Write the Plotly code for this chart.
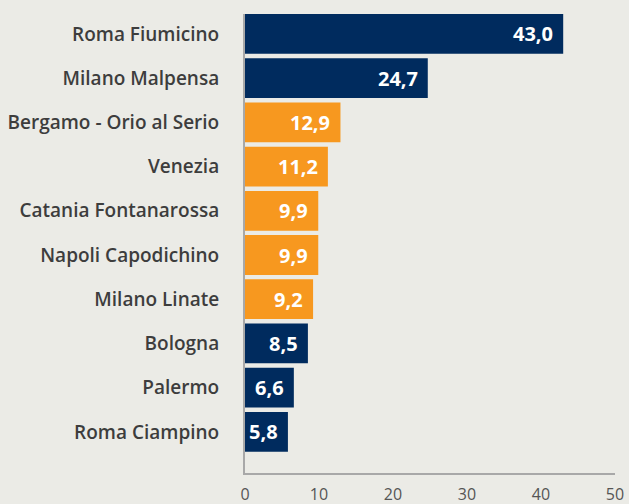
import plotly.graph_objects as go

airports = ['Roma Fiumicino', 'Milano Malpensa', 'Bergamo - Orio al Serio', 'Venezia',
            'Catania Fontanarossa', 'Napoli Capodichino', 'Milano Linate', 'Bologna',
            'Palermo', 'Roma Ciampino']
values = [43.0, 24.7, 12.9, 11.2, 9.9, 9.9, 9.2, 8.5, 6.6, 5.8]
groups = ['blu', 'blu', 'arancio', 'arancio', 'arancio', 'arancio', 'arancio', 'blu', 'blu', 'blu']

NAVY = '#002b5e'
ORANGE = '#f7981f'
BG = '#ebebe6'
colors = [NAVY if g == 'blu' else ORANGE for g in groups]

fig = go.Figure(go.Bar(
    x=values,
    y=airports,
    orientation='h',
    marker=dict(color=colors, line=dict(width=0)),
    width=0.9,
    hoverinfo='skip',
))

# etichette valori dentro le barre, allineate a destra
for a, v in zip(airports, values):
    fig.add_annotation(
        x=v, y=a, text=f'{v:.1f}'.replace('.', ','),
        showarrow=False, xanchor='right', xshift=-8,
        font=dict(family='Open Sans', size=20, color='white', weight='bold'),
    )

fig.update_layout(
    width=629, height=504,
    margin=dict(l=245, r=14, t=14, b=31, autoexpand=False),
    paper_bgcolor=BG, plot_bgcolor=BG,
    showlegend=False,
    xaxis=dict(
        range=[0, 50], tickvals=[0, 10, 20, 30, 40, 50],
        showgrid=False, zeroline=False, automargin=False,
        showline=True, linecolor='#a8a8a8', linewidth=2,
        tickfont=dict(family='Open Sans', size=16, color='#555555'),
        ticks='', ticklabelstandoff=6, fixedrange=True,
    ),
    yaxis=dict(
        range=[9.93, -0.45], automargin=False,
        showgrid=False, zeroline=False,
        showline=True, linecolor='#a8a8a8', linewidth=2,
        tickfont=dict(family='Open Sans', size=19, color='#3d3d3d', weight=600),
        ticks='', ticklabelstandoff=20, fixedrange=True,
    ),
)

# niente margine di pagina attorno al grafico
fig.write_html('out.html', config={'displayModeBar': False},
               post_script="document.body.style.margin='0';document.body.style.background='#ebebe6';")
